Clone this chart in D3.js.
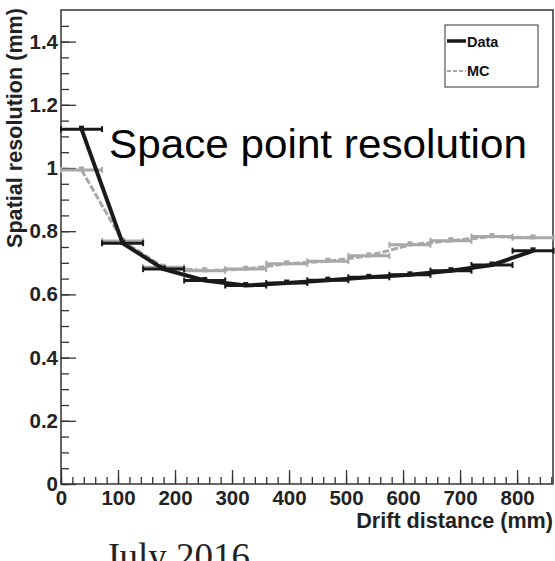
<!DOCTYPE html>
<html>
<head>
<meta charset="utf-8">
<script src="https://cdn.jsdelivr.net/npm/d3@7"></script>
<style>
  body { margin: 0; background: #fff; }
  svg { display: block; }
  .tick text { font-family: "Liberation Sans", Arial, sans-serif; font-weight: bold; }
</style>
</head>
<body>
<div id="chart"></div>
<script>
// bin centres (mm) and half widths
const driftX = [36, 108, 180, 252, 324, 396, 468, 540, 612, 684, 756, 828];
const binHalf = [36, 36, 36, 36, 36, 36, 36, 36, 36, 36, 36, 36];
// resolution values (mm)
const dataRes = [1.123, 0.762, 0.680, 0.644, 0.628, 0.636, 0.645, 0.654, 0.662, 0.675, 0.693, 0.738];
const mcRes = [0.994, 0.769, 0.686, 0.675, 0.680, 0.697, 0.705, 0.722, 0.757, 0.770, 0.783, 0.779];
const xTicks = [0, 100, 200, 300, 400, 500, 600, 700, 800];
const yTicks = [0, 0.2, 0.4, 0.6, 0.8, 1, 1.2, 1.4];

const width = 555, height = 561;
const margin = {top: 10, right: 2, bottom: 77, left: 61};

const svg = d3.select('#chart').append('svg')
    .attr('width', width).attr('height', height);

const x = d3.scaleLinear([0, 863], [margin.left, width - margin.right]);
const y = d3.scaleLinear([0, 1.5], [height - margin.bottom, margin.top]);

const axisColor = '#333';

// minor ticks
svg.append('g')
    .attr('transform', `translate(0,${height - margin.bottom})`)
    .call(d3.axisBottom(x).tickValues(d3.range(0, 861, 20)).tickSize(-7).tickFormat(''))
    .call(g => g.select('.domain').remove())
    .selectAll('line').attr('stroke', axisColor).attr('stroke-width', 1.3);
svg.append('g')
    .attr('transform', `translate(${margin.left},0)`)
    .call(d3.axisLeft(y).tickValues(d3.range(0, 1.5, 0.05)).tickSize(-8).tickFormat(''))
    .call(g => g.select('.domain').remove())
    .selectAll('line').attr('stroke', axisColor).attr('stroke-width', 1.3);

// major ticks
const gx = svg.append('g')
    .attr('transform', `translate(0,${height - margin.bottom})`)
    .call(d3.axisBottom(x).tickValues(xTicks).tickSize(-14).tickPadding(6))
    .call(g => g.select('.domain').remove());
gx.selectAll('line').attr('stroke', axisColor).attr('stroke-width', 1.3);
gx.selectAll('text').attr('font-size', 20.5).attr('fill', '#222');

const gy = svg.append('g')
    .attr('transform', `translate(${margin.left},0)`)
    .call(d3.axisLeft(y).tickValues(yTicks).tickSize(-15).tickPadding(3)
        .tickFormat(d => String(+d.toFixed(1))))
    .call(g => g.select('.domain').remove());
gy.selectAll('line').attr('stroke', axisColor).attr('stroke-width', 1.3);
gy.selectAll('text').attr('font-size', 20.5).attr('fill', '#222');

// frame
svg.append('rect')
    .attr('x', margin.left).attr('y', margin.top)
    .attr('width', width - margin.right - margin.left)
    .attr('height', height - margin.bottom - margin.top)
    .attr('fill', 'none').attr('stroke', axisColor).attr('stroke-width', 1.5);

// series
function drawSeries(values, color, lw, dash) {
    const g = svg.append('g');
    const pts = driftX.map((d, i) => [d, values[i], binHalf[i]]);
    g.append('path')
        .datum(pts)
        .attr('fill', 'none')
        .attr('stroke', color)
        .attr('stroke-width', lw)
        .attr('stroke-dasharray', dash)
        .attr('d', d3.line().x(d => x(d[0])).y(d => y(d[1])));
    g.selectAll('line.err').data(pts).join('line')
        .attr('x1', d => x(d[0] - d[2])).attr('x2', d => x(d[0] + d[2]))
        .attr('y1', d => y(d[1])).attr('y2', d => y(d[1]))
        .attr('stroke', color).attr('stroke-width', 3);
    g.selectAll('line.capl').data(pts).join('line')
        .attr('x1', d => x(d[0] - d[2])).attr('x2', d => x(d[0] - d[2]))
        .attr('y1', d => y(d[1]) - 3).attr('y2', d => y(d[1]) + 3)
        .attr('stroke', color).attr('stroke-width', 2);
    g.selectAll('line.capr').data(pts).join('line')
        .attr('x1', d => x(d[0] + d[2])).attr('x2', d => x(d[0] + d[2]))
        .attr('y1', d => y(d[1]) - 3).attr('y2', d => y(d[1]) + 3)
        .attr('stroke', color).attr('stroke-width', 2);
    g.selectAll('rect').data(pts).join('rect')
        .attr('x', d => x(d[0]) - 2.5).attr('y', d => y(d[1]) - 3.5)
        .attr('width', 5).attr('height', 5)
        .attr('fill', color);
}
drawSeries(mcRes, '#a8a8a8', 3, '7,2');
drawSeries(dataRes, '#1a1a1a', 4, null);

// axis titles
svg.append('text')
    .attr('x', width - 2).attr('y', 528)
    .attr('text-anchor', 'end')
    .attr('font-family', '"Liberation Sans", Arial, sans-serif')
    .attr('font-weight', 'bold').attr('font-size', 21.6).attr('fill', '#222')
    .text('Drift distance (mm)');
svg.append('text')
    .attr('transform', 'translate(22,8) rotate(-90)')
    .attr('text-anchor', 'end')
    .attr('font-family', '"Liberation Sans", Arial, sans-serif')
    .attr('font-weight', 'bold').attr('font-size', 21.6).attr('fill', '#222')
    .text('Spatial resolution (mm)');

// legend
const leg = svg.append('g');
leg.append('rect')
    .attr('x', 445).attr('y', 25).attr('width', 93).attr('height', 62)
    .attr('fill', '#fff').attr('stroke', '#333').attr('stroke-width', 1);
leg.append('line').attr('x1', 447).attr('x2', 466).attr('y1', 41).attr('y2', 41)
    .attr('stroke', '#1a1a1a').attr('stroke-width', 3.5);
leg.append('line').attr('x1', 447).attr('x2', 466).attr('y1', 71).attr('y2', 71)
    .attr('stroke', '#a8a8a8').attr('stroke-width', 2).attr('stroke-dasharray', '4,2');
leg.selectAll('text').data(['Data', 'MC']).join('text')
    .attr('x', 467).attr('y', (d, i) => 47 + i * 29)
    .attr('font-family', '"Liberation Sans", Arial, sans-serif')
    .attr('font-weight', 'bold').attr('font-size', 14.5).attr('fill', '#111')
    .text(d => d);

// overlay title
svg.append('text')
    .attr('x', 109).attr('y', 158)
    .attr('font-family', '"Liberation Sans", Arial, sans-serif')
    .attr('font-size', 40).attr('fill', '#000')
    .attr('textLength', 418).attr('lengthAdjust', 'spacingAndGlyphs')
    .text('Space point resolution');

svg.append('text')
    .attr('x', 105).attr('y', 569)
    .attr('font-family', '"Liberation Serif", "Times New Roman", serif')
    .attr('font-size', 37).attr('fill', '#222')
    .text('July 2016');
</script>
</body>
</html>
